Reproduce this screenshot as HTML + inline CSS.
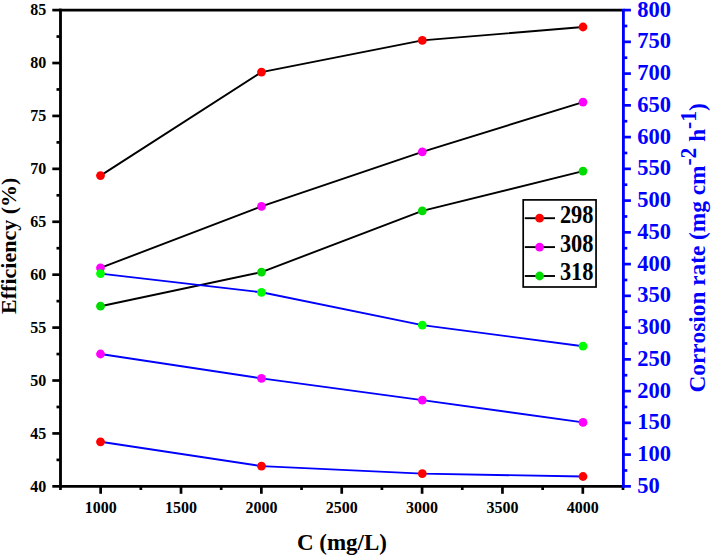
<!DOCTYPE html>
<html><head><meta charset="utf-8"><title>chart</title>
<style>html,body{margin:0;padding:0;background:#fff;}svg{display:block;}text{font-family:"Liberation Serif",serif;font-weight:bold;font-variant-ligatures:none;font-kerning:none;}</style></head><body>
<svg width="711" height="556" viewBox="0 0 711 556">
<rect width="711" height="556" fill="#fff"/>
<polyline points="100.5,175.6 261.5,72.1 422.3,40.4 583.0,27.0" fill="none" stroke="#000" stroke-width="1.9" stroke-linejoin="round"/>
<circle cx="100.5" cy="175.6" r="4.4" fill="#ff0000"/>
<circle cx="261.5" cy="72.1" r="4.4" fill="#ff0000"/>
<circle cx="422.3" cy="40.4" r="4.4" fill="#ff0000"/>
<circle cx="583.0" cy="27.0" r="4.4" fill="#ff0000"/>
<polyline points="100.5,267.9 261.5,206.4 422.3,151.8 583.0,102.1" fill="none" stroke="#000" stroke-width="1.9" stroke-linejoin="round"/>
<circle cx="100.5" cy="267.9" r="4.4" fill="#ff00ff"/>
<circle cx="261.5" cy="206.4" r="4.4" fill="#ff00ff"/>
<circle cx="422.3" cy="151.8" r="4.4" fill="#ff00ff"/>
<circle cx="583.0" cy="102.1" r="4.4" fill="#ff00ff"/>
<polyline points="100.5,306.2 261.5,272.1 422.3,210.9 583.0,171.1" fill="none" stroke="#000" stroke-width="1.9" stroke-linejoin="round"/>
<circle cx="100.5" cy="306.2" r="4.4" fill="#00dc00"/>
<circle cx="261.5" cy="272.1" r="4.4" fill="#00dc00"/>
<circle cx="422.3" cy="210.9" r="4.4" fill="#00dc00"/>
<circle cx="583.0" cy="171.1" r="4.4" fill="#00dc00"/>
<polyline points="100.5,441.8 261.5,466.1 422.3,473.6 583.0,476.5" fill="none" stroke="#0000ff" stroke-width="1.9" stroke-linejoin="round"/>
<circle cx="100.5" cy="441.8" r="4.4" fill="#ff0000"/>
<circle cx="261.5" cy="466.1" r="4.4" fill="#ff0000"/>
<circle cx="422.3" cy="473.6" r="4.4" fill="#ff0000"/>
<circle cx="583.0" cy="476.5" r="4.4" fill="#ff0000"/>
<polyline points="100.5,354.0 261.5,378.4 422.3,400.1 583.0,422.4" fill="none" stroke="#0000ff" stroke-width="1.9" stroke-linejoin="round"/>
<circle cx="100.5" cy="354.0" r="4.4" fill="#ff00ff"/>
<circle cx="261.5" cy="378.4" r="4.4" fill="#ff00ff"/>
<circle cx="422.3" cy="400.1" r="4.4" fill="#ff00ff"/>
<circle cx="583.0" cy="422.4" r="4.4" fill="#ff00ff"/>
<polyline points="100.5,273.6 261.5,292.3 422.3,325.1 583.0,346.2" fill="none" stroke="#0000ff" stroke-width="1.9" stroke-linejoin="round"/>
<circle cx="100.5" cy="273.6" r="4.4" fill="#00ff00"/>
<circle cx="261.5" cy="292.3" r="4.4" fill="#00ff00"/>
<circle cx="422.3" cy="325.1" r="4.4" fill="#00ff00"/>
<circle cx="583.0" cy="346.2" r="4.4" fill="#00ff00"/>
<g stroke="#000" stroke-width="2.85" fill="none">
<line x1="60.5" y1="8.674999999999999" x2="60.5" y2="487.77500000000003"/>
<line x1="59.075" y1="486.35" x2="621.975" y2="486.35"/>
<line x1="59.075" y1="10.1" x2="621.975" y2="10.1"/>
</g>
<g stroke="#000" stroke-width="2.7">
<line x1="52.3" y1="486.35" x2="60.5" y2="486.35"/>
<line x1="56.5" y1="459.89" x2="60.5" y2="459.89"/>
<line x1="52.3" y1="433.43" x2="60.5" y2="433.43"/>
<line x1="56.5" y1="406.98" x2="60.5" y2="406.98"/>
<line x1="52.3" y1="380.52" x2="60.5" y2="380.52"/>
<line x1="56.5" y1="354.06" x2="60.5" y2="354.06"/>
<line x1="52.3" y1="327.60" x2="60.5" y2="327.60"/>
<line x1="56.5" y1="301.14" x2="60.5" y2="301.14"/>
<line x1="52.3" y1="274.68" x2="60.5" y2="274.68"/>
<line x1="56.5" y1="248.22" x2="60.5" y2="248.22"/>
<line x1="52.3" y1="221.77" x2="60.5" y2="221.77"/>
<line x1="56.5" y1="195.31" x2="60.5" y2="195.31"/>
<line x1="52.3" y1="168.85" x2="60.5" y2="168.85"/>
<line x1="56.5" y1="142.39" x2="60.5" y2="142.39"/>
<line x1="52.3" y1="115.93" x2="60.5" y2="115.93"/>
<line x1="56.5" y1="89.47" x2="60.5" y2="89.47"/>
<line x1="52.3" y1="63.02" x2="60.5" y2="63.02"/>
<line x1="56.5" y1="36.56" x2="60.5" y2="36.56"/>
<line x1="52.3" y1="10.10" x2="60.5" y2="10.10"/>
<line x1="60.47" y1="486.35" x2="60.47" y2="490.0"/>
<line x1="100.65" y1="486.35" x2="100.65" y2="493.8"/>
<line x1="140.83" y1="486.35" x2="140.83" y2="490.0"/>
<line x1="181.01" y1="486.35" x2="181.01" y2="493.8"/>
<line x1="221.19" y1="486.35" x2="221.19" y2="490.0"/>
<line x1="261.37" y1="486.35" x2="261.37" y2="493.8"/>
<line x1="301.55" y1="486.35" x2="301.55" y2="490.0"/>
<line x1="341.73" y1="486.35" x2="341.73" y2="493.8"/>
<line x1="381.91" y1="486.35" x2="381.91" y2="490.0"/>
<line x1="422.09" y1="486.35" x2="422.09" y2="493.8"/>
<line x1="462.27" y1="486.35" x2="462.27" y2="490.0"/>
<line x1="502.45" y1="486.35" x2="502.45" y2="493.8"/>
<line x1="542.63" y1="486.35" x2="542.63" y2="490.0"/>
<line x1="582.81" y1="486.35" x2="582.81" y2="493.8"/>
<line x1="622.99" y1="486.35" x2="622.99" y2="490.0"/>
</g>
<g stroke="#0000ff" stroke-width="2.85">
<line x1="623.4" y1="8.674999999999999" x2="623.4" y2="487.77500000000003"/>
</g><g stroke="#0000ff" stroke-width="2.7">
<line x1="623.4" y1="486.35" x2="630.9" y2="486.35"/>
<line x1="623.4" y1="470.48" x2="627.3" y2="470.48"/>
<line x1="623.4" y1="454.60" x2="630.9" y2="454.60"/>
<line x1="623.4" y1="438.73" x2="627.3" y2="438.73"/>
<line x1="623.4" y1="422.85" x2="630.9" y2="422.85"/>
<line x1="623.4" y1="406.98" x2="627.3" y2="406.98"/>
<line x1="623.4" y1="391.10" x2="630.9" y2="391.10"/>
<line x1="623.4" y1="375.23" x2="627.3" y2="375.23"/>
<line x1="623.4" y1="359.35" x2="630.9" y2="359.35"/>
<line x1="623.4" y1="343.48" x2="627.3" y2="343.48"/>
<line x1="623.4" y1="327.60" x2="630.9" y2="327.60"/>
<line x1="623.4" y1="311.73" x2="627.3" y2="311.73"/>
<line x1="623.4" y1="295.85" x2="630.9" y2="295.85"/>
<line x1="623.4" y1="279.98" x2="627.3" y2="279.98"/>
<line x1="623.4" y1="264.10" x2="630.9" y2="264.10"/>
<line x1="623.4" y1="248.22" x2="627.3" y2="248.22"/>
<line x1="623.4" y1="232.35" x2="630.9" y2="232.35"/>
<line x1="623.4" y1="216.47" x2="627.3" y2="216.47"/>
<line x1="623.4" y1="200.60" x2="630.9" y2="200.60"/>
<line x1="623.4" y1="184.72" x2="627.3" y2="184.72"/>
<line x1="623.4" y1="168.85" x2="630.9" y2="168.85"/>
<line x1="623.4" y1="152.97" x2="627.3" y2="152.97"/>
<line x1="623.4" y1="137.10" x2="630.9" y2="137.10"/>
<line x1="623.4" y1="121.22" x2="627.3" y2="121.22"/>
<line x1="623.4" y1="105.35" x2="630.9" y2="105.35"/>
<line x1="623.4" y1="89.47" x2="627.3" y2="89.47"/>
<line x1="623.4" y1="73.60" x2="630.9" y2="73.60"/>
<line x1="623.4" y1="57.73" x2="627.3" y2="57.73"/>
<line x1="623.4" y1="41.85" x2="630.9" y2="41.85"/>
<line x1="623.4" y1="25.98" x2="627.3" y2="25.98"/>
<line x1="623.4" y1="10.10" x2="630.9" y2="10.10"/>
</g>
<g font-size="16" fill="#000" text-anchor="end">
<text x="46.2" y="491.6">40</text>
<text x="46.2" y="438.6">45</text>
<text x="46.2" y="385.7">50</text>
<text x="46.2" y="332.8">55</text>
<text x="46.2" y="279.9">60</text>
<text x="46.2" y="227.0">65</text>
<text x="46.2" y="174.0">70</text>
<text x="46.2" y="121.1">75</text>
<text x="46.2" y="68.2">80</text>
<text x="46.2" y="15.3">85</text>
</g>
<g font-size="16" fill="#000" text-anchor="middle">
<text x="100.7" y="513.4">1000</text>
<text x="181.0" y="513.4">1500</text>
<text x="261.4" y="513.4">2000</text>
<text x="341.7" y="513.4">2500</text>
<text x="422.1" y="513.4">3000</text>
<text x="502.5" y="513.4">3500</text>
<text x="582.8" y="513.4">4000</text>
</g>
<g font-size="22.5" fill="#0000ff" text-anchor="start">
<text x="637.3" y="492.9">50</text>
<text x="637.3" y="461.1">100</text>
<text x="637.3" y="429.4">150</text>
<text x="637.3" y="397.6">200</text>
<text x="637.3" y="365.9">250</text>
<text x="637.3" y="334.1">300</text>
<text x="637.3" y="302.4">350</text>
<text x="637.3" y="270.6">400</text>
<text x="637.3" y="238.8">450</text>
<text x="637.3" y="207.1">500</text>
<text x="637.3" y="175.3">550</text>
<text x="637.3" y="143.6">600</text>
<text x="637.3" y="111.8">650</text>
<text x="637.3" y="80.1">700</text>
<text x="637.3" y="48.4">750</text>
<text x="637.3" y="16.6">800</text>
</g>
<text transform="translate(341.9,549.7) scale(1,1.04)" font-size="23" text-anchor="middle" fill="#000">C (mg/L)</text>
<text transform="translate(16.2,245.8) rotate(-90)" font-size="22" text-anchor="middle" fill="#000">Efficiency (%)</text>
<text transform="translate(705.3,247.9) rotate(-90) scale(1,1.03)" font-size="23.3" text-anchor="middle" fill="#0000ff">Corrosion rate (mg cm<tspan dy="-8.8" font-size="21.5">-2</tspan><tspan dy="8.8"> h</tspan><tspan dy="-8.8" font-size="21.5">-1</tspan><tspan dy="8.8">)</tspan></text>
<rect x="523.2" y="199.9" width="72.85" height="87.1" fill="#fff" stroke="#000" stroke-width="1.7"/>
<line x1="524.8" y1="218.2" x2="555.0" y2="218.2" stroke="#000" stroke-width="1.9"/>
<circle cx="539.6" cy="218.2" r="4.4" fill="#ff0000"/>
<text transform="translate(559.9,222.6) scale(0.975,1.075)" font-size="23" fill="#000">298</text>
<line x1="524.8" y1="247.1" x2="555.0" y2="247.1" stroke="#000" stroke-width="1.9"/>
<circle cx="539.6" cy="247.1" r="4.4" fill="#ff00ff"/>
<text transform="translate(559.9,251.5) scale(0.975,1.075)" font-size="23" fill="#000">308</text>
<line x1="524.8" y1="276.0" x2="555.0" y2="276.0" stroke="#000" stroke-width="1.9"/>
<circle cx="539.6" cy="276.0" r="4.4" fill="#00dc00"/>
<text transform="translate(559.9,280.4) scale(0.975,1.075)" font-size="23" fill="#000">318</text>
</svg></body></html>
